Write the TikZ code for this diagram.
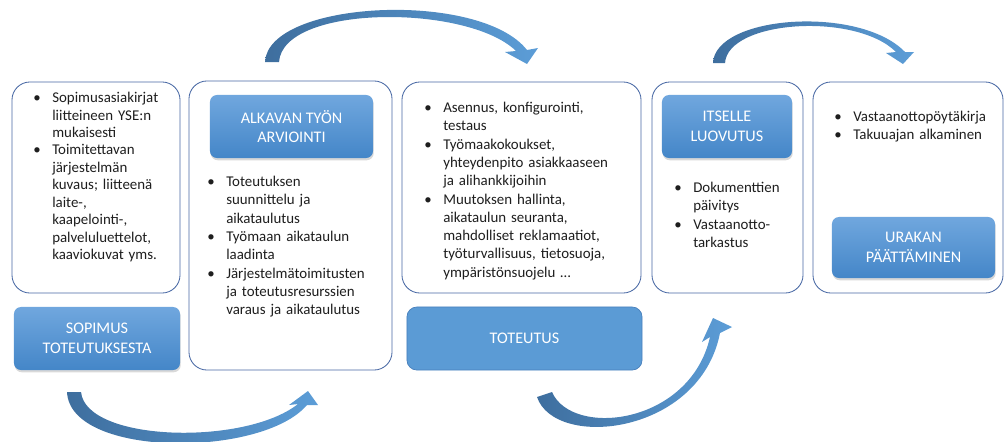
\documentclass[tikz,border=0pt]{standalone}
\usepackage{fontspec}
\setmainfont{Carlito}
\usepackage{tikz}
\usetikzlibrary{shadows}
\definecolor{myedge}{RGB}{72,104,164}
\definecolor{mytext}{RGB}{30,30,30}
\definecolor{phtop}{RGB}{112,167,222}
\definecolor{phbot}{RGB}{68,134,200}
\definecolor{phflat}{RGB}{91,155,213}
\definecolor{phline}{RGB}{72,128,188}
\definecolor{arrdark}{RGB}{62,110,158}
\definecolor{arrlight}{RGB}{92,157,215}
\setlength{\parskip}{0pt}
\newcommand{\bitem}[1]{\noindent\hangindent=13.5pt\hangafter=1\makebox[13.5pt][l]{\textbullet}#1\par}
\tikzset{
  wbox/.style={rectangle, draw=myedge, fill=white, rounded corners=0.45cm, line width=0.6pt},
  phase/.style={rectangle, top color=phtop, bottom color=phbot, text=white, align=center,
    font=\fontsize{11.5}{14}\selectfont, rounded corners=5pt,
    drop shadow={opacity=0.3, shadow xshift=0.5pt, shadow yshift=-1.6pt}},
  flatphase/.style={rectangle, fill=phflat, draw=phline, line width=0.5pt, text=white,
    align=center, font=\fontsize{11.5}{14}\selectfont, rounded corners=7pt},
  blist/.style={anchor=north west, inner sep=0pt, align=left, text=mytext,
    font=\fontsize{10.6}{12.4}\selectfont},
  ribbon/.style={left color=arrdark, right color=arrlight}
}
\begin{document}
\begin{tikzpicture}[x=0.025cm, y=-0.025cm]
  \useasboundingbox (0,0) rectangle (1006,441);

  % white frames
  \node[wbox, minimum width=4.2cm, minimum height=5.275cm] (sopbox) at (96,187.5) {};
  \node[wbox, minimum width=5.075cm, minimum height=7.225cm] (alkbox) at (290.5,225.5) {};
  \node[wbox, minimum width=5.975cm, minimum height=5.275cm] (totbox) at (521.5,187.5) {};
  \node[wbox, minimum width=3.775cm, minimum height=5.275cm] (itsbox) at (727.5,187.5) {};
  \node[wbox, minimum width=4.75cm, minimum height=5.275cm] (urabox) at (908,187.5) {};

  % phase titles
  \node[phase, minimum width=4.15cm, minimum height=1.575cm] (sop) at (97,338.5) {SOPIMUS\\TOTEUTUKSESTA};
  \node[phase, minimum width=4.075cm, minimum height=1.575cm] (alk) at (291.5,126.5) {ALKAVAN TYÖN\\ARVIOINTI};
  \node[flatphase, minimum width=5.875cm, minimum height=1.575cm] (tot) at (524.5,338.5) {TOTEUTUS};
  \node[phase, minimum width=3.25cm, minimum height=1.575cm] (its) at (727,126.5) {ITSELLE\\LUOVUTUS};
  \node[phase, minimum width=4.075cm, minimum height=1.525cm] (ura) at (913.5,247.5) {URAKAN\\PÄÄTTÄMINEN};

  % bullet lists
  \node[blist, text width=3.7cm] (soplist) at (33,92) {%
    \bitem{Sopimusasiakirjat\newline liitteineen YSE:n\newline mukaisesti}
    \bitem{Toimitettavan\newline järjestelmän\newline kuvaus; liitteenä\newline laite-,\newline kaapelointi-,\newline palveluluettelot,\newline kaaviokuvat yms.}};
  \node[blist, text width=4.6cm, font=\fontsize{10.6}{13}\selectfont] (alklist) at (207,176) {%
    \bitem{Toteutuksen\newline suunnittelu ja\newline aikataulutus}
    \bitem{Työmaan aikataulun\newline laadinta}
    \bitem{Järjestelmätoimitusten\newline ja toteutusresurssien\newline varaus ja aikataulutus}};
  \node[blist, text width=5.6cm, font=\fontsize{10.6}{13}\selectfont] (totlist) at (424,102) {%
    \bitem{Asennus, konfigurointi,\newline testaus}
    \bitem{Työmaakokoukset,\newline yhteydenpito asiakkaaseen\newline ja alihankkijoihin}
    \bitem{Muutoksen hallinta,\newline aikataulun seuranta,\newline mahdolliset reklamaatiot,\newline työturvallisuus, tietosuoja,\newline ympäristönsuojelu …}};
  \node[blist, text width=3.1cm, font=\fontsize{10.6}{13}\selectfont] (itslist) at (674,182) {%
    \bitem{Dokumenttien\newline päivitys}
    \bitem{Vastaanotto-\newline tarkastus}};
  \node[blist, text width=4.2cm, font=\fontsize{10.6}{13}\selectfont] (uralist) at (834,111) {%
    \bitem{Vastaanottopöytäkirja}
    \bitem{Takuuajan alkaminen}};

  % curved arrows between phases
  \coordinate (a1tail) at (265,62);
  \coordinate (a1tip) at (527,64);
  \path[ribbon] (a1tail) .. controls (268,0) and (480,-10) .. (527,50)
    -- (538,48) -- (a1tip) -- (505,52) -- (516,51)
    .. controls (468,4) and (283,4) .. (279,62) -- cycle;

  \coordinate (a2tail) at (713,63);
  \coordinate (a2tip) at (903,64);
  \path[ribbon] (a2tail) .. controls (715,15) and (860,5) .. (905,52)
    -- (914,52) -- (a2tip) -- (886,53) -- (896,52)
    .. controls (856,12) and (728,20) .. (725,63) -- cycle;

  \coordinate (b1tail) at (67,392);
  \coordinate (b1tip) at (308,391);
  \path[ribbon] (b1tail) .. controls (70,458) and (262,458) .. (307,405)
    -- (318,405) -- (b1tip) -- (289,405) -- (298,404)
    .. controls (245,446) and (86,442) .. (81,392) -- cycle;

  \coordinate (b2tail) at (537,397);
  \coordinate (b2tip) at (713,318);
  \path[ribbon] (b2tail) .. controls (555,450) and (700,435) .. (720,333)
    -- (732,327) -- (b2tip) -- (702,342) -- (710,337)
    .. controls (690,425) and (572,438) .. (552,392) -- cycle;
\end{tikzpicture}
\end{document}
